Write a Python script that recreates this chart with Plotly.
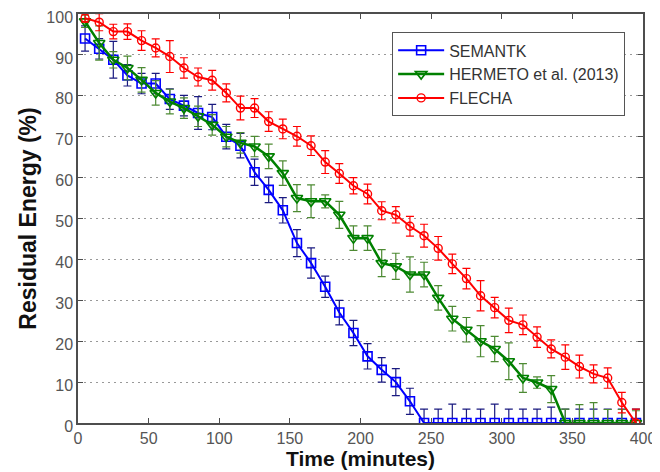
import plotly.graph_objects as go

time_min = [5, 15, 25, 35, 45, 55, 65, 75, 85, 95, 105, 115, 125, 135, 145, 155, 165, 175, 185, 195,
            205, 215, 225, 235, 245, 255, 265, 275, 285, 295, 305, 315, 325, 335, 345, 355, 365, 375, 385, 395]

semantk = [94, 91.5, 88.8, 85, 83, 83, 79.2, 77.6, 75.8, 74.8, 70, 67.8, 61.3, 57, 52, 44, 39.1, 33.3, 27, 22,
           16.3, 13, 10, 5.3, 0, 0, 0, 0, 0, 0, 0, 0, 0, 0, 0, 0, 0, 0, 0, 0]
semantk_err = [3.1, 2.5, 4.5, 2.6, 2.5, 2.5, 2.5, 2.5, 4, 3.1, 3, 3, 3.2, 3.1, 3.1, 3.3, 3.7, 2.6, 3, 3.1,
               3.1, 3, 3.3, 3.2, 3.4, 3.4, 4.6, 3.4, 3.4, 4.6, 3.4, 3.4, 3.4, 3.9, 3.4, 3.4, 3.4, 3.4, 3.4, 3.4]

hermeto = [98.2, 92.9, 88.8, 86.8, 83.9, 80.7, 78.6, 77, 75, 72.9, 70, 68.5, 67.6, 65.2, 61.1, 55, 54.2, 54.2, 50.9, 45.2,
           45.2, 39.1, 38.3, 36.3, 36.3, 30.6, 25.5, 22.8, 20, 18.1, 15.1, 11, 9.9, 8.3, 0, 0, 0, 0, 0, 0]
hermeto_err = [1.5, 4.2, 2, 2.9, 3, 3, 3, 2.5, 2.5, 2.5, 2.5, 2.5, 2.5, 3, 3, 3.3, 4, 1.6, 3.3, 3,
               3, 3.3, 3.2, 4.3, 3, 3, 3, 3, 3.8, 3.1, 4.5, 3.5, 1.4, 3.3, 3.4, 4.5, 5, 3.3, 3.3, 3]

flecha = [99, 98, 95.7, 95.7, 93.5, 91.7, 89.6, 86.8, 84.6, 83.8, 80.7, 77, 77, 73.7, 71.9, 70.1, 67.8, 63.8, 61, 58,
          56, 51.9, 50.9, 48.1, 45.8, 42.7, 38.9, 35.3, 31.1, 28.2, 25.1, 24, 21, 18.1, 16.1, 13.8, 12, 11, 5, 0]
flecha_err = [1, 2.1, 1.8, 1.9, 2.4, 2.2, 3.9, 2.5, 2.2, 2.4, 2.2, 2.9, 2.3, 2.4, 2.4, 2.4, 2.4, 2.8, 2.4, 2,
              2.4, 2.2, 2, 2.4, 2.8, 2.9, 2.4, 2.5, 3.7, 2.5, 3, 2.4, 2.5, 2.2, 3, 2.8, 2.2, 2.5, 2.5, 3.4]

series_names = ["SEMANTK", "HERMETO et al. (2013)", "FLECHA"]

FONT = "Arial, Liberation Sans, sans-serif"

fig = go.Figure()
fig.add_trace(go.Scatter(
    x=time_min, y=semantk, name=series_names[0], mode="lines+markers",
    line=dict(color="#0000ff", width=2),
    marker=dict(symbol="square-open", size=9, color="#0000ff", line=dict(width=1.6)),
    error_y=dict(type="data", array=semantk_err, color="#1a1a80", thickness=1.2, width=4),
))
fig.add_trace(go.Scatter(
    x=time_min, y=hermeto, name=series_names[1], mode="lines+markers",
    line=dict(color="#008000", width=2.5),
    marker=dict(symbol="triangle-down-open", size=10, color="#008000", line=dict(width=1.6)),
    error_y=dict(type="data", array=hermeto_err, color="#4d8a33", thickness=1.2, width=4),
))
fig.add_trace(go.Scatter(
    x=time_min, y=flecha, name=series_names[2], mode="lines+markers",
    line=dict(color="#ff0000", width=2),
    marker=dict(symbol="circle-open", size=8, color="#ff0000", line=dict(width=1.4)),
    error_y=dict(type="data", array=flecha_err, color="#ff0000", thickness=1.2, width=4),
))

axis_common = dict(
    showline=True, linecolor="#4d4d4d", linewidth=1.5, mirror="ticks",
    ticks="inside", ticklen=5, tickcolor="#4d4d4d",
    tickfont=dict(family=FONT, size=16, color="#555555"),
    zeroline=False, automargin=False, ticklabeloverflow="allow",
)

fig.update_xaxes(
    range=[0, 400], tickvals=[0, 50, 100, 150, 200, 250, 300, 350, 400], showgrid=False,
    title=dict(text="<b>Time (minutes)</b>", font=dict(family=FONT, size=21, color="#111111"), standoff=4),
    **axis_common,
)
fig.update_yaxes(
    range=[0, 100], tickvals=[0, 10, 20, 30, 40, 50, 60, 70, 80, 90, 100], ticklabelshift=3,
    showgrid=True, gridcolor="#999999", griddash="2px,4px", gridwidth=1,
    title=dict(text="<b>Residual Energy (%)</b>", font=dict(family=FONT, size=23, color="#111111"), standoff=3),
    **axis_common,
)

# page body has an 8px margin, so the figure is drawn 8px smaller and offset
fig.update_layout(
    width=652, height=464,
    margin=dict(l=70, r=17, t=6, b=49),
    paper_bgcolor="white", plot_bgcolor="white",
    legend=dict(
        x=0.556, y=0.955, xanchor="left", yanchor="top",
        bordercolor="#555555", borderwidth=1, bgcolor="white",
        font=dict(family=FONT, size=16, color="#333333"),
        tracegroupgap=0, itemwidth=46,
    ),
    showlegend=True,
)

fig.write_html("out.html")
